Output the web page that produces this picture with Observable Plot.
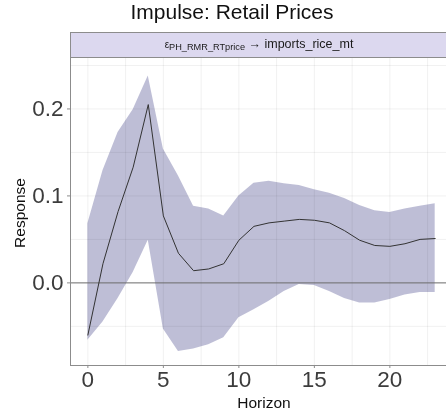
<!DOCTYPE html>
<html><head><meta charset="utf-8">
<script src="https://cdn.jsdelivr.net/npm/d3@7"></script>
<script src="https://cdn.jsdelivr.net/npm/@observablehq/plot@0.6"></script>
<style>
body{margin:0;background:#fff;font-family:"Liberation Sans",Arial,sans-serif;}
#wrap{position:relative;width:446px;height:416px;overflow:hidden;}
#title{position:absolute;left:0;width:464px;top:0px;text-align:center;font-size:21px;color:#111;}
#strip{position:absolute;left:70px;top:32px;width:400px;height:26px;box-sizing:border-box;border:1px solid #8c8c8c;background:#dcd8ef;}
#striptext{position:absolute;left:0;width:376px;top:4px;text-align:center;font-size:12.5px;color:#1a1a1a;}
#striptext sub{font-size:9.2px;vertical-align:-2px;}
#chart{position:absolute;left:0;top:58px;}
#ylab{position:absolute;left:20px;top:213px;transform:translate(-50%,-50%) rotate(-90deg);font-size:15.5px;color:#111;white-space:nowrap;}
#xlab{position:absolute;left:264px;top:403px;transform:translate(-50%,-50%);font-size:15.5px;color:#111;}
</style></head>
<body><div id="wrap">
<div id="title">Impulse: Retail Prices</div>
<div id="strip"><div id="striptext"><span style="font-size:10px">ε</span><sub>PH_RMR_RTprice</sub> → imports_rice_mt</div></div>
<div id="chart"></div>
<div id="ylab">Response</div>
<div id="xlab">Horizon</div>
</div>
<script>
const horizon = [0,1,2,3,4,5,6,7,8,9,10,11,12,13,14,15,16,17,18,19,20,21,22,23];
const response = [-0.060,0.022,0.082,0.133,0.205,0.077,0.034,0.014,0.016,0.022,0.049,0.065,0.069,0.071,0.073,0.072,0.069,0.060,0.049,0.043,0.042,0.045,0.050,0.051];
const upper = [0.068,0.129,0.173,0.199,0.238,0.154,0.123,0.088,0.085,0.077,0.100,0.1145,0.117,0.114,0.112,0.107,0.103,0.097,0.089,0.083,0.081,0.085,0.088,0.091];
const lower = [-0.066,-0.045,-0.018,0.012,0.049,-0.053,-0.079,-0.076,-0.071,-0.063,-0.040,-0.031,-0.021,-0.010,-0.002,-0.003,-0.010,-0.018,-0.023,-0.023,-0.019,-0.014,-0.011,-0.011];
const xTicks = [0,5,10,15,20];
const xGrid = [0,2.5,5,7.5,10,12.5,15,17.5,20,22.5];
const yTicks = [0,0.1,0.2];
const yGrid = [-0.05,0,0.05,0.1,0.15,0.2,0.25];
const xDomain = [-1.15, 23.75];
const yDomain = [-0.095, 0.258];

const data = horizon.map((h,i)=>({h, r:response[i], lo:lower[i], hi:upper[i]}));

const plot = Plot.plot({
  width: 446, height: 358,
  marginTop: 0, marginLeft: 70, marginRight: 0, marginBottom: 51,
  style: {fontFamily: '"Liberation Sans", Arial, sans-serif', background: "transparent"},
  x: {domain: xDomain},
  y: {domain: yDomain},
  marks: [
    Plot.areaY(data, {x: "h", y1: "lo", y2: "hi", fill: "#6e6ea3", fillOpacity: 0.45}),
    Plot.gridX(xGrid, {stroke: "#f1f1f1", strokeOpacity: 1, mixBlendMode: "multiply"}),
    Plot.gridY(yGrid, {stroke: "#f1f1f1", strokeOpacity: 1, mixBlendMode: "multiply"}),
    Plot.ruleY([0], {stroke: "#707070", strokeWidth: 1}),
    Plot.line(data, {x: "h", y: "r", stroke: "#333", strokeWidth: 1}),
    Plot.axisX(xTicks, {tickFormat: d => String(d), fontSize: 22.5, tickSize: 3, tickPadding: 3, stroke: "#8c8c8c", color: "#3c3c3c", label: null}),
    Plot.axisY(yTicks, {tickFormat: d => d.toFixed(1), fontSize: 22.5, tickSize: 3, tickPadding: 4, stroke: "#8c8c8c", color: "#3c3c3c", label: null}),
    Plot.frame({anchor: "left", stroke: "#8c8c8c"}),
    Plot.frame({anchor: "bottom", stroke: "#8c8c8c"})
  ]
});
document.getElementById("chart").appendChild(plot);
</script>
</body></html>
